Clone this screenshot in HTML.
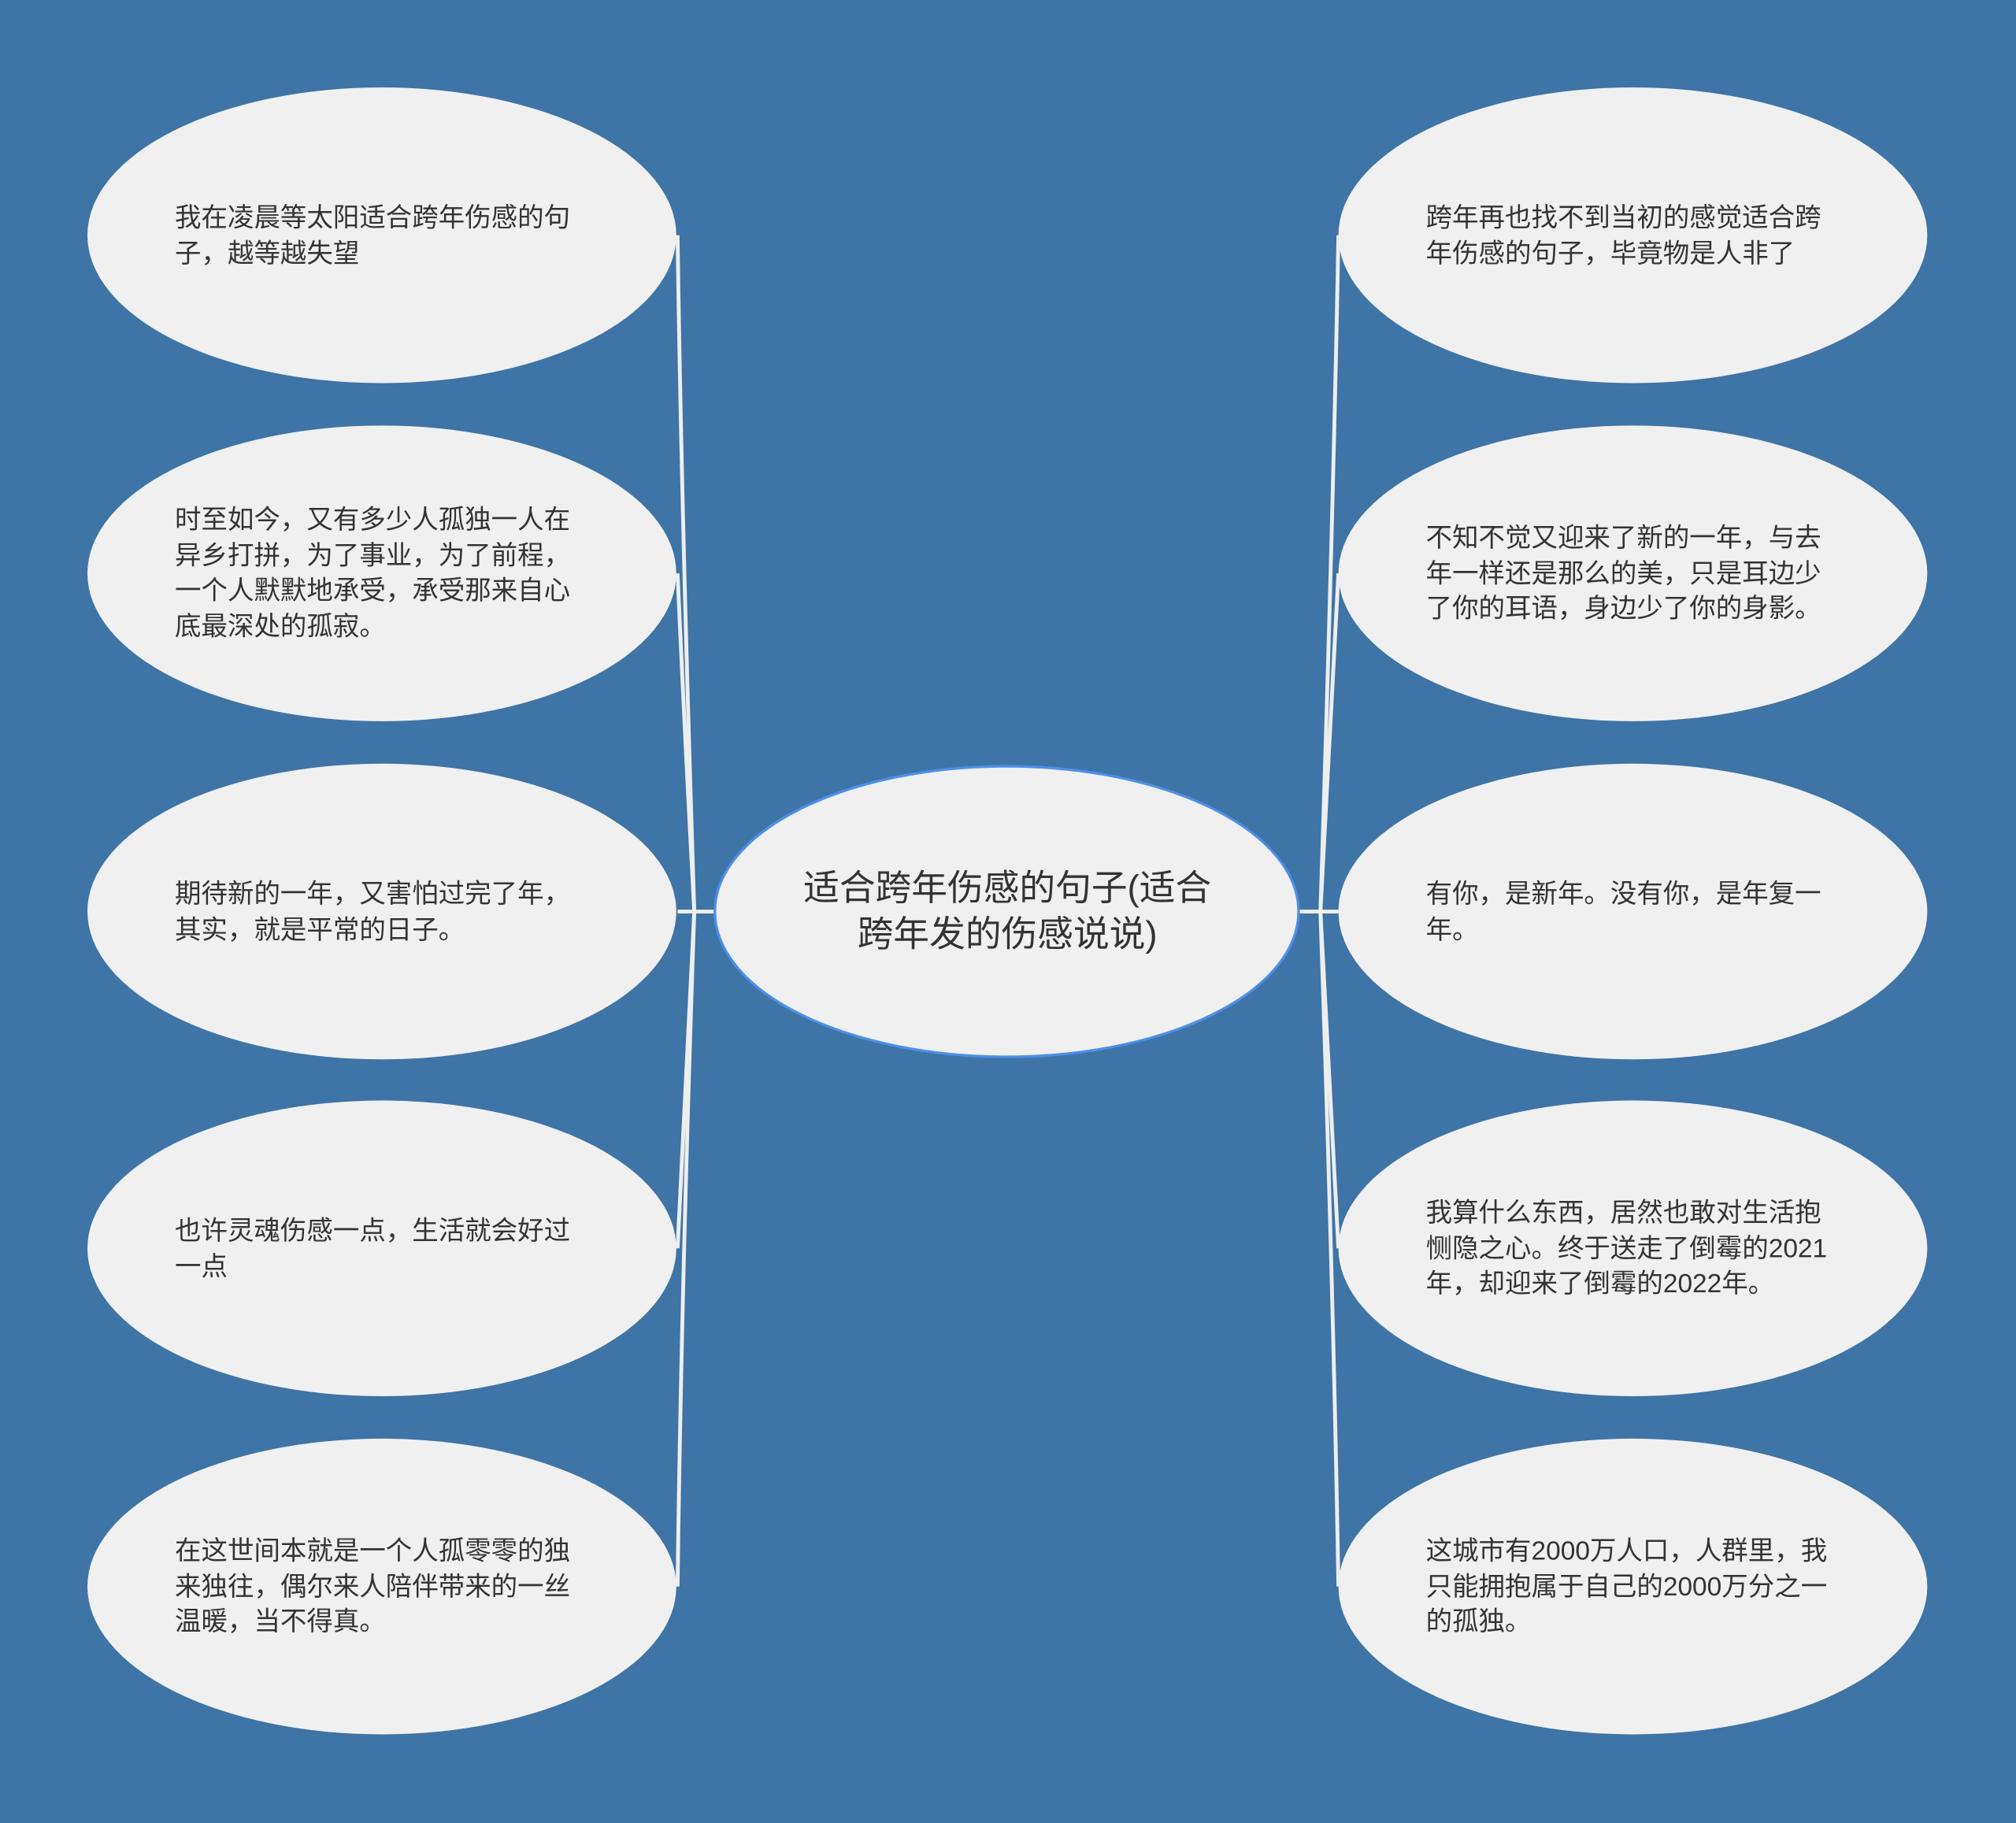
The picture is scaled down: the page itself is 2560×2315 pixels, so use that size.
<!DOCTYPE html>
<html><head><meta charset="utf-8"><style>
html,body{margin:0;padding:0;background:#3e74a6;}
#wrap{position:absolute;left:0;top:0;width:1568px;height:1418px;transform:scale(1.63265);transform-origin:0 0;background:#3e74a6;overflow:hidden;}
.t{position:absolute;font-family:"Liberation Sans","Noto Sans CJK SC",sans-serif;font-size:20.5px;line-height:27.5px;color:#333;white-space:nowrap;}
.c{position:absolute;font-family:"Liberation Sans","Noto Sans CJK SC",sans-serif;font-size:28px;line-height:36px;color:#333;text-align:center;width:455px;left:556px;top:673px;}
</style></head><body><div id="wrap">
<svg width="1568" height="1418" style="position:absolute;left:0;top:0">
<g stroke="#eeeeee" stroke-width="3" fill="none">
<line x1="556" y1="709" x2="540" y2="709"/>
<path d="M540 709 Q530 400 527 183"/>
<path d="M540 709 Q532 560 527 446"/>
<line x1="540" y1="709" x2="527" y2="709"/>
<path d="M540 709 Q532 860 527 971"/>
<path d="M540 709 Q530 1000 527 1234"/>
<line x1="1011" y1="709" x2="1027" y2="709"/>
<path d="M1027 709 Q1037 400 1041 183"/>
<path d="M1027 709 Q1035 560 1041 446"/>
<line x1="1027" y1="709" x2="1041" y2="709"/>
<path d="M1027 709 Q1035 860 1041 971"/>
<path d="M1027 709 Q1037 1000 1041 1234"/>
</g>
<g fill="#f0f0f0">
<ellipse cx="297" cy="183" rx="229" ry="115"/>
<ellipse cx="297" cy="446" rx="229" ry="115"/>
<ellipse cx="297" cy="709" rx="229" ry="115"/>
<ellipse cx="297" cy="971" rx="229" ry="115"/>
<ellipse cx="297" cy="1234" rx="229" ry="115"/>
<ellipse cx="1270" cy="183" rx="229" ry="115"/>
<ellipse cx="1270" cy="446" rx="229" ry="115"/>
<ellipse cx="1270" cy="709" rx="229" ry="115"/>
<ellipse cx="1270" cy="971" rx="229" ry="115"/>
<ellipse cx="1270" cy="1234" rx="229" ry="115"/>
<ellipse cx="783" cy="709" rx="227" ry="113" stroke="#4d8fe8" stroke-width="2"/>
</g>
</svg>
<div class="t" style="left:136px;top:156px">我在凌晨等太阳适合跨年伤感的句<br>子，越等越失望</div>
<div class="t" style="left:136px;top:391px">时至如今，又有多少人孤独一人在<br>异乡打拼，为了事业，为了前程，<br>一个人默默地承受，承受那来自心<br>底最深处的孤寂。</div>
<div class="t" style="left:136px;top:682px">期待新的一年，又害怕过完了年，<br>其实，就是平常的日子。</div>
<div class="t" style="left:136px;top:944px">也许灵魂伤感一点，生活就会好过<br>一点</div>
<div class="t" style="left:136px;top:1193px">在这世间本就是一个人孤零零的独<br>来独往，偶尔来人陪伴带来的一丝<br>温暖，当不得真。</div>
<div class="t" style="left:1109px;top:156px">跨年再也找不到当初的感觉适合跨<br>年伤感的句子，毕竟物是人非了</div>
<div class="t" style="left:1109px;top:405px">不知不觉又迎来了新的一年，与去<br>年一样还是那么的美，只是耳边少<br>了你的耳语，身边少了你的身影。</div>
<div class="t" style="left:1109px;top:682px">有你，是新年。没有你，是年复一<br>年。</div>
<div class="t" style="left:1109px;top:930px">我算什么东西，居然也敢对生活抱<br>恻隐之心。终于送走了倒霉的2021<br>年，却迎来了倒霉的2022年。</div>
<div class="t" style="left:1109px;top:1193px">这城市有2000万人口，人群里，我<br>只能拥抱属于自己的2000万分之一<br>的孤独。</div>
<div class="c">适合跨年伤感的句子(适合<br>跨年发的伤感说说)</div>
</div></body></html>
